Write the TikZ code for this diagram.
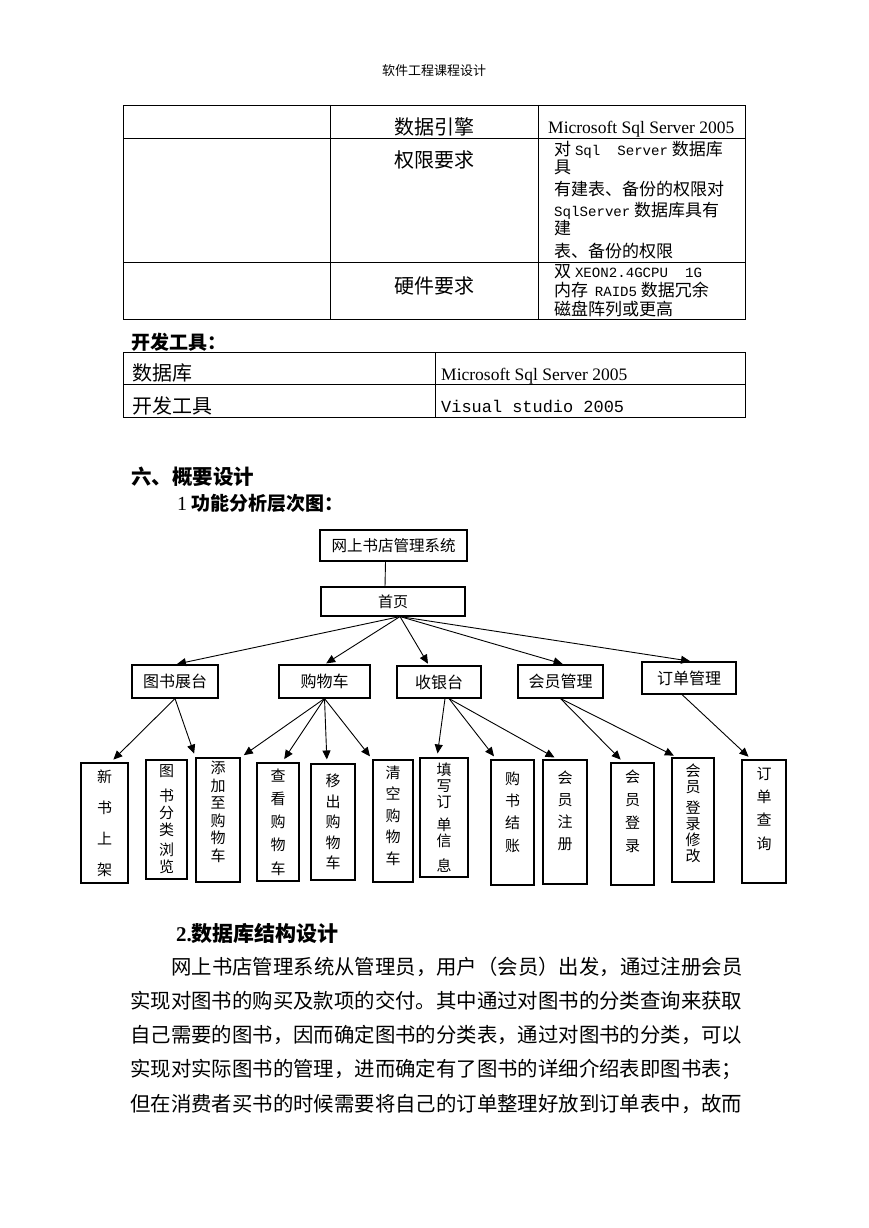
\documentclass[tikz,border=0pt]{standalone}
\usepackage{fontspec}
\setmainfont{Liberation Serif}
\setmonofont{Liberation Mono}[Scale=0.83]
\newfontfamily\cjk{Noto Sans CJK SC}
\usetikzlibrary{arrows.meta}
\newcommand{\fs}[1]{\fontsize{#1}{#1}\selectfont}
\newcommand{\leaffont}[1]{\cjk\fontsize{15}{#1}\selectfont}

\begin{document}
\begin{tikzpicture}[x=1pt, y=-1pt,
tablerule/.style={line width=0.9pt},
celltext/.style={inner sep=0pt, font=\cjk\fs{20}},
smalltext/.style={anchor=west, inner sep=0pt, font=\cjk\fs{17}},
headtext/.style={anchor=west, inner sep=0pt, font=\cjk\bfseries\fs{19}},
bodytext/.style={anchor=west, inner sep=0pt, font=\cjk\fs{20.4}},
topnode/.style={rectangle, draw, line width=1.1pt, inner sep=0pt, font=\cjk\fs{15.5}},
midnode/.style={rectangle, draw, line width=1.1pt, inner sep=0pt, minimum height=33pt, font=\cjk\fs{16}},
leafnode/.style={rectangle, draw, line width=1.1pt, inner sep=0pt, align=center, minimum height=122pt},
linkarrow/.style={line width=0.9pt, -{Triangle[length=9pt,width=8pt]}, shorten >=2pt},
leafarrow/.style={linkarrow, shorten >=4pt},
]
%Page
\useasboundingbox (0,0) rectangle (869,1228);
\fill[white] (0,0) rectangle (869,1228);
\node[inner sep=0pt, font=\cjk\fs{13}] (pagehead) at (434,71) {软件工程课程设计};

%Table 1
\draw[tablerule] (123,105) rectangle (745,319);
\draw[tablerule] (123,138) -- (745,138);
\draw[tablerule] (123,262) -- (745,262);
\draw[tablerule] (330,105) -- (330,319);
\draw[tablerule] (538,105) -- (538,319);
\node[celltext] (engine) at (434,127) {数据引擎};
\node[anchor=west, inner sep=0pt, font=\fs{17.5}] (engineval) at (548,129) {Microsoft Sql Server 2005};
\node[celltext] (rights) at (434,160) {权限要求};
\node[smalltext] (rights1) at (554,149.5) {对 {\ttfamily Sql\ \ Server} 数据库};
\node[smalltext] (rights2) at (554,167) {具};
\node[smalltext] (rights3) at (554,189) {有建表、备份的权限对};
\node[smalltext] (rights4) at (554,211) {{\ttfamily SqlServer} 数据库具有};
\node[smalltext] (rights5) at (554,228.5) {建};
\node[smalltext] (rights6) at (554,251) {表、备份的权限};
\node[celltext] (hardware) at (434,286) {硬件要求};
\node[smalltext] (hw1) at (554,272) {双 {\ttfamily XEON2.4GCPU\ \ 1G}};
\node[smalltext] (hw2) at (554,290) {内存 \,{\ttfamily RAID5} 数据冗余};
\node[smalltext] (hw3) at (554,308.5) {磁盘阵列或更高};

%Table 2
\node[headtext] (toolshead) at (131,342) {开发工具：};
\draw[tablerule] (123,352) rectangle (745,417);
\draw[tablerule] (123,384) -- (745,384);
\draw[tablerule] (435,352) -- (435,417);
\node[celltext, anchor=west] (dbname) at (132,373) {数据库};
\node[anchor=west, inner sep=0pt, font=\fs{17.5}] (dbval) at (441,376) {Microsoft Sql Server 2005};
\node[celltext, anchor=west] (toolname) at (132,406) {开发工具};
\node[anchor=west, inner sep=0pt, font=\ttfamily\fs{20.4}] (toolval) at (441,406) {Visual studio 2005};

%Headings
\node[headtext, font=\cjk\bfseries\fs{20.5}] (sec6) at (131,477) {六、概要设计};
\node[headtext] (sec61) at (172,503) {{\rmfamily\mdseries\fs{20} 1} 功能分析层次图：};

%Tree nodes
\node[topnode, minimum width=147pt, minimum height=31pt] (sys) at (393.5,545.5) {网上书店管理系统};
\node[topnode, minimum width=144pt, minimum height=29pt, font=\cjk\fs{15}] (home) at (393,601.5) {首页};

\node[midnode, minimum width=86pt] (shelf) at (175,681.5) {图书展台};
\node[midnode, minimum width=91pt] (cart) at (324.5,681.5) {购物车};
\node[midnode, minimum width=84pt, minimum height=32pt] (cashier) at (439,682) {收银台};
\node[midnode, minimum width=85pt] (member) at (560.5,681.5) {会员管理};
\node[midnode, minimum width=94pt, minimum height=32pt] (order) at (689,678) {订单管理};

\node[leafnode, minimum width=47pt, minimum height=120pt, font=\leaffont{31}] (newbook) at (104.5,823) {新\\书\\上\\架};
\node[leafnode, minimum width=41pt, minimum height=119pt, font=\leaffont{17}] (category) at (166.5,819.5) {图\\[8pt]书\\分\\类\\[3pt]浏\\览};
\node[leafnode, minimum width=44pt, minimum height=124pt, font=\leaffont{17.6}] (addcart) at (218,820) {添\\加\\至\\购\\物\\车\\\mbox{}};
\node[leafnode, minimum width=42pt, minimum height=118pt, font=\leaffont{23.2}] (viewcart) at (278,822) {查\\看\\购\\物\\车};
\node[leafnode, minimum width=44pt, minimum height=116pt, font=\leaffont{20.5}] (removecart) at (333,822) {移\\出\\购\\物\\车};
\node[leafnode, minimum width=40pt, minimum height=122pt, font=\leaffont{21.5}] (clearcart) at (393,821) {清\\空\\购\\物\\车\\[-9.5pt]\mbox{}};
\node[leafnode, minimum width=48pt, minimum height=119pt, font=\leaffont{16}] (fillorder) at (444,817.5) {填\\写\\订\\[7pt]单\\信\\[9pt]息};
\node[leafnode, minimum width=43pt, minimum height=125pt, font=\leaffont{22.3}] (checkout) at (512.5,822.5) {购\\书\\结\\账\\\mbox{}};
\node[leafnode, minimum width=44pt, minimum height=124pt, font=\leaffont{22}] (register) at (565,822) {会\\员\\注\\册\\[2pt]\mbox{}};
\node[leafnode, minimum width=43pt, minimum height=122pt, font=\leaffont{23}] (login) at (632.5,824) {会\\员\\登\\录\\[4pt]\mbox{}};
\node[leafnode, minimum width=42pt, minimum height=124pt, font=\leaffont{16}] (modify) at (693,820) {会\\员\\[5pt]登\\录\\修\\改\\[-2pt]\mbox{}};
\node[leafnode, minimum width=44pt, minimum height=123pt, font=\leaffont{23.3}] (orderquery) at (764,821.5) {订\\单\\查\\询\\[3.7pt]\mbox{}};

%Lines
\draw[line width=0.9pt] ([xshift=-8pt]sys.south) -- ([xshift=-8pt]home.north);
\draw[linkarrow] ([xshift=7pt]home.south) -- (shelf.north);
\draw[linkarrow] ([xshift=7pt]home.south) -- (cart.north);
\draw[linkarrow] ([xshift=7pt]home.south) -- ([xshift=-10pt]cashier.north);
\draw[linkarrow] ([xshift=7pt]home.south) -- ([xshift=4pt]member.north);
\draw[linkarrow] ([xshift=7pt]home.south) -- ([xshift=3pt]order.north);

\draw[leafarrow] (shelf.south) -- ([xshift=6pt]newbook.north);
\draw[leafarrow] (shelf.south) -- (addcart.north west);
\draw[leafarrow] (cart.south) -- (addcart.north east);
\draw[leafarrow] (cart.south) -- ([xshift=4pt]viewcart.north);
\draw[leafarrow] (cart.south) -- ([xshift=-6pt]removecart.north);
\draw[leafarrow] (cart.south) -- (clearcart.north west);
\draw[leafarrow] ([xshift=6pt]cashier.south) -- ([xshift=-7pt]fillorder.north);
\draw[leafarrow] ([xshift=10pt]cashier.south) -- ([xshift=6pt]checkout.north west);
\draw[leafarrow] ([xshift=10pt]cashier.south) -- ([xshift=-7pt]register.north);
\draw[leafarrow] (member.south) -- ([xshift=-9pt]login.north);
\draw[leafarrow] (member.south) -- ([xshift=6pt]modify.north west);
\draw[leafarrow] ([xshift=-7pt]order.south) -- ([xshift=10pt]orderquery.north west);

%Text
\node[headtext, font=\cjk\bfseries\fs{21}] (sec62) at (176,933) {{\rmfamily 2.}数据库结构设计};
\node[bodytext] (para1) at (171,967) {网上书店管理系统从管理员，用户（会员）出发，通过注册会员};
\node[bodytext] (para2) at (130,1001) {实现对图书的购买及款项的交付。其中通过对图书的分类查询来获取};
\node[bodytext] (para3) at (130,1035) {自己需要的图书，因而确定图书的分类表，通过对图书的分类，可以};
\node[bodytext] (para4) at (130,1069) {实现对实际图书的管理，进而确定有了图书的详细介绍表即图书表；};
\node[bodytext] (para5) at (130,1104) {但在消费者买书的时候需要将自己的订单整理好放到订单表中，故而};
\end{tikzpicture}
\end{document}
